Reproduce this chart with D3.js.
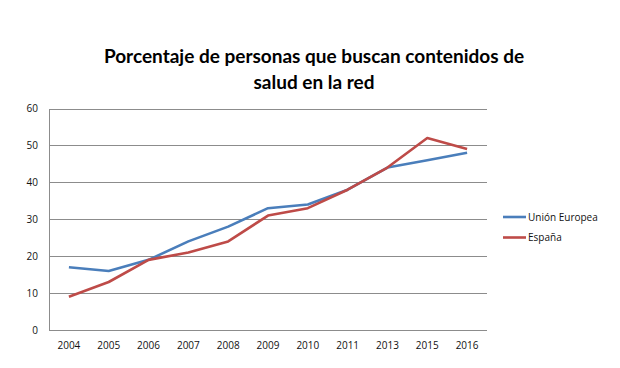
<!DOCTYPE html>
<html><head><meta charset="utf-8">
<script src="https://cdn.jsdelivr.net/npm/d3@7"></script>
<style>body{margin:0;background:#fff}svg{display:block}</style>
</head><body>
<svg id="c" width="620" height="368"></svg>
<script>
const categories = ["2004","2005","2006","2007","2008","2009","2010","2011","2013","2015","2016"];
const euValues = [17,16,19,24,28,33,34,38,44,46,48];
const esValues = [9,13,19,21,24,31,33,38,44,52,49];
const yTicks = [0,10,20,30,40,50,60];
const seriesNames = ["Unión Europea","España"];
const colors = ["#4a7ebb","#be4b48"];
const titleLines = ["Porcentaje de personas que buscan contenidos de","salud en la red"];

const svg = d3.select("#c");
const L=49,R=487,T=108.5,B=330;
const x = d3.scaleBand().domain(categories).range([L,R]);
const y = d3.scaleLinear().domain([0,60]).range([B,T]);

svg.append("g").selectAll("line").data(yTicks).join("line")
  .attr("x1",L).attr("x2",R).attr("y1",d=>Math.round(y(d))+0.5).attr("y2",d=>Math.round(y(d))+0.5)
  .attr("stroke","#8c8c8c").attr("stroke-width",1);
svg.append("line").attr("x1",L+0.5).attr("x2",L+0.5).attr("y1",Math.round(y(60))).attr("y2",Math.round(y(0))+1)
  .attr("stroke","#8c8c8c");

const yAxis = svg.append("g").attr("transform",`translate(${L},0)`)
  .call(d3.axisLeft(y).tickValues(yTicks).tickSize(0).tickPadding(11));
yAxis.select(".domain").remove();
yAxis.selectAll("text").attr("font-family","Open Sans, sans-serif").attr("font-size",10).attr("fill","#111");

const xAxis = svg.append("g").attr("transform",`translate(0,${B})`)
  .call(d3.axisBottom(x).tickSize(0).tickPadding(12));
xAxis.select(".domain").remove();
xAxis.selectAll("text").attr("font-family","Open Sans, sans-serif").attr("font-size",10).attr("fill","#111");

const line = d3.line().x((d,i)=>x(categories[i])+x.bandwidth()/2).y(d=>y(d));
[euValues,esValues].forEach((vals,k)=>{
  svg.append("path").attr("d",line(vals)).attr("fill","none")
    .attr("stroke",colors[k]).attr("stroke-width",2.6).attr("stroke-linejoin","round");
});

seriesNames.forEach((n,k)=>{
  const ly = 217 + k*20.5;
  svg.append("line").attr("x1",503).attr("x2",526).attr("y1",ly).attr("y2",ly)
    .attr("stroke",colors[k]).attr("stroke-width",2.6);
  svg.append("text").attr("x",528).attr("y",ly+3.5).text(n)
    .attr("font-family","Open Sans, sans-serif").attr("font-size",10).attr("fill","#111");
});

titleLines.forEach((t,i)=>{
  svg.append("text").attr("x",314).attr("y",63+i*26).attr("text-anchor","middle")
    .attr("font-family","Lato, sans-serif").attr("font-weight","bold").attr("font-size",19)
    .attr("fill","#000").text(t);
});
</script>
</body></html>
